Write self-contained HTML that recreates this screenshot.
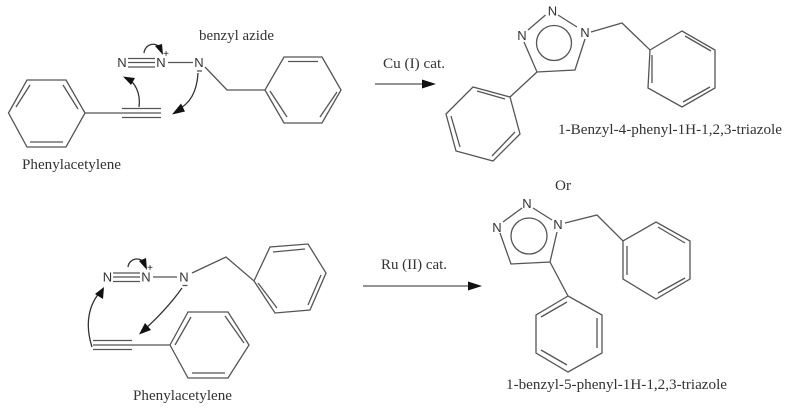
<!DOCTYPE html>
<html><head><meta charset="utf-8"><style>
html,body{margin:0;padding:0;background:#fff}
svg{display:block;filter:blur(.35px)}
.b{fill:none;stroke:#555;stroke-width:1.3;stroke-linejoin:miter}
.c{fill:none;stroke:#333;stroke-width:1.3}
.h{fill:#111;stroke:none}
.t{font-family:"Liberation Serif",serif;font-size:15px;fill:#333}
.n{font-family:"Liberation Sans",sans-serif;font-size:13px;fill:#333;text-anchor:middle}
.s{font-family:"Liberation Sans",sans-serif;font-size:10px;fill:#222;text-anchor:middle}
</style></head><body>
<svg width="800" height="409" viewBox="0 0 800 409" xmlns="http://www.w3.org/2000/svg">
<rect width="800" height="409" fill="#fff"/>

<!-- Top left: phenylacetylene -->
<path class="b" d="M8.5 113L27 80H66L85 113L66 147H27ZM16 107L30 85M63 85L78 109M30 142H63M85 113H122M122 108.5H161M122 113H161M122 117.5H161"/>
<!-- Top azide -->
<path class="b" d="M128 58.5H155M128 62.5H155M128 67H155M168 62.5H193M205 67L227 90H265L284 57H322L341 90L322 123H284L265 90M288 61.5H318M270 91L287 117M320 117L337 92"/>
<text class="n" x="122" y="67">N</text>
<text class="n" x="161" y="67">N</text>
<text class="n" x="199" y="67">N</text>
<text class="s" x="166" y="57">+</text>
<path class="b" d="M197 71H202"/>
<path class="c" d="M144 53C145 43 158 41 161 50"/>
<path class="h" d="M163 55L155 46L162 44Z"/>
<path class="c" d="M198 73C197 92 190 104 177 110"/>
<path class="h" d="M172 114.500L181 103.500L185 111.500Z"/>
<path class="c" d="M139 107C141 92 134 82 128 79"/>
<path class="h" d="M123 76.500L135 78L131 85Z"/>

<text class="t" x="199" y="40" textLength="75" lengthAdjust="spacingAndGlyphs">benzyl azide</text>
<text class="t" x="22" y="169" textLength="99" lengthAdjust="spacingAndGlyphs">Phenylacetylene</text>

<!-- Top arrow -->
<path class="b" d="M375 84H424"/>
<path class="h" d="M436 84L422 79.500V88.500Z"/>
<text class="t" x="383" y="68" textLength="62" lengthAdjust="spacingAndGlyphs">Cu (I) cat.</text>

<!-- Top product -->
<circle class="b" cx="554" cy="43" r="17.500"/>
<path class="b" d="M545.500 15L528 30M558 15L577 27M524 42L537 72L575 70L585 39M591 32L622 23L650 50L682 31L715 50V88L682 107L648 88L650 50M685 36L711 51M710 87L683 102M652 55V83M537 72L510 97L473 87L446 114L456 151L493 161L520 134L510 97M477 91L505 99M451 116L460 147M492 156L515 132"/>
<text class="n" x="552.500" y="15.500">N</text>
<text class="n" x="522" y="40">N</text>
<text class="n" x="585" y="37">N</text>
<text class="t" x="558" y="134" textLength="224" lengthAdjust="spacingAndGlyphs">1-Benzyl-4-phenyl-1H-1,2,3-triazole</text>
<text class="t" x="555" y="190" textLength="16" lengthAdjust="spacingAndGlyphs">Or</text>

<!-- Bottom azide -->
<path class="b" d="M113 273H140M113 277H140M113 281.500H140M153 277H177M192 273L226 257L254 281L270 247L308 244L326 273L310 310L275 313L254 281M273 252L305 249M321 275L308 305M258 283L277 308"/>
<text class="n" x="107.500" y="281.500">N</text>
<text class="n" x="146" y="281.500">N</text>
<text class="n" x="184" y="281.500">N</text>
<text class="s" x="150" y="271">+</text>
<path class="b" d="M182.500 285.500H187.500"/>
<path class="c" d="M128 267C129 258 141 256 145 264"/>
<path class="h" d="M147 270L139 261L146 258Z"/>
<path class="c" d="M182 288C170 305 155 320 144 330"/>
<path class="h" d="M139 334.500L145 323L151 330Z"/>
<path class="c" d="M92 347C85 325 88 305 101 291"/>
<path class="h" d="M104 287L103 299L95 294Z"/>

<!-- Bottom phenylacetylene -->
<path class="b" d="M93 340.500H132M93 345H132M93 349.500H132M132 345H170L188 312H228L249 345L228 378H188L170 345M175 345L191 317M225 316L244 343M192 373H225"/>
<text class="t" x="133" y="400" textLength="99" lengthAdjust="spacingAndGlyphs">Phenylacetylene</text>

<!-- Bottom arrow -->
<path class="b" d="M363 286H470"/>
<path class="h" d="M482 286L468 281.500V290.500Z"/>
<text class="t" x="381" y="269" textLength="66" lengthAdjust="spacingAndGlyphs">Ru (II) cat.</text>

<!-- Bottom product -->
<circle class="b" cx="529" cy="236" r="18"/>
<path class="b" d="M522 208L503 222M533 208L552 220M500 233L511 264L550 262L557 232M565 223L597 215L623 241L656 222L690 241V279L656 299L623 279V241M658 227L685 243M685 278L658 293M627 246V275M550 262L568 296L602 315V353L568 372L536 353V315L568 296M567 302L541 317M597 318V348M567 365L541 350"/>
<text class="n" x="527" y="208">N</text>
<text class="n" x="497" y="232">N</text>
<text class="n" x="558" y="229">N</text>
<text class="t" x="506" y="389" textLength="221" lengthAdjust="spacingAndGlyphs">1-benzyl-5-phenyl-1H-1,2,3-triazole</text>
</svg>
</body></html>
